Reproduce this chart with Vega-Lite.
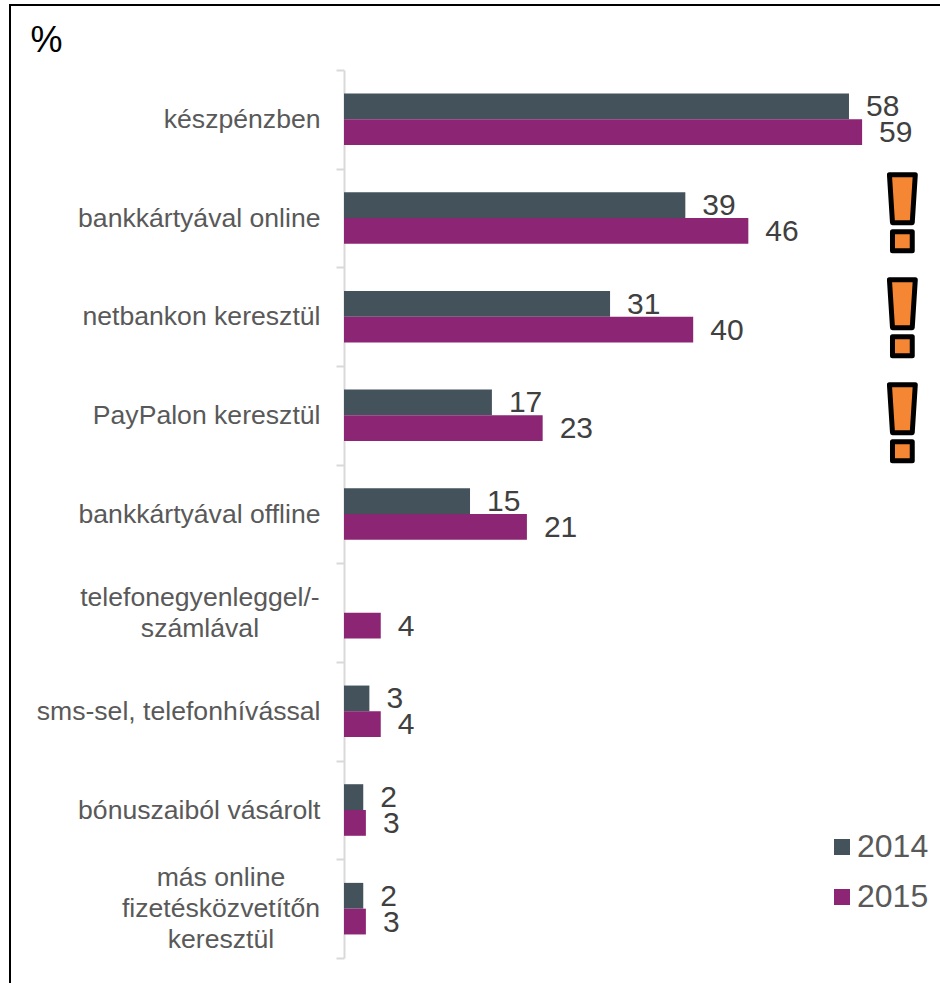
{
"$schema":"https://vega.github.io/schema/vega-lite/v6.json",
"autosize":"none",
"padding":{"left":10,"top":5,"right":0,"bottom":0},
"width":950,
"height":1000,
"background":"white",
"view":{"stroke":"black","strokeWidth":2,"fill":"white"},
"config":{"font":"Liberation Sans"},
"datasets":{
"bars":[
{"cat":"készpénzben","year":"2014","v":57.7,"lab":"58"},
{"cat":"készpénzben","year":"2015","v":59.2,"lab":"59"},
{"cat":"bankkártyával online","year":"2014","v":39,"lab":"39"},
{"cat":"bankkártyával online","year":"2015","v":46.2,"lab":"46"},
{"cat":"netbankon keresztül","year":"2014","v":30.4,"lab":"31"},
{"cat":"netbankon keresztül","year":"2015","v":39.9,"lab":"40"},
{"cat":"PayPalon keresztül\u00a0","year":"2014","v":16.9,"lab":"17"},
{"cat":"PayPalon keresztül\u00a0","year":"2015","v":22.7,"lab":"23"},
{"cat":"bankkártyával offline","year":"2014","v":14.4,"lab":"15"},
{"cat":"bankkártyával offline","year":"2015","v":20.9,"lab":"21"},
{"cat":"telefonegyenleggel/-|számlával","year":"2015","v":4.2,"lab":"4"},
{"cat":"sms-sel, telefonhívással","year":"2014","v":2.9,"lab":"3"},
{"cat":"sms-sel, telefonhívással","year":"2015","v":4.2,"lab":"4"},
{"cat":"bónuszaiból vásárolt","year":"2014","v":2.2,"lab":"2"},
{"cat":"bónuszaiból vásárolt","year":"2015","v":2.5,"lab":"3"},
{"cat":"más online|fizetésközvetítőn|keresztül","year":"2014","v":2.2,"lab":"2"},
{"cat":"más online|fizetésközvetítőn|keresztül","year":"2015","v":2.5,"lab":"3"}
],
"flags":[{"rank":1,"pos":63.8},{"rank":2,"pos":63.8},{"rank":3,"pos":63.8}]
},
"resolve":{"scale":{"y":"independent"}},
"layer":[
{"data":{"name":"bars"},
"mark":{"type":"bar"},
"encoding":{
"y":{"field":"cat","type":"nominal","sort":null,"scale":{"domain":["készpénzben","bankkártyával online","netbankon keresztül","PayPalon keresztül\u00a0","bankkártyával offline","telefonegyenleggel/-|számlával","sms-sel, telefonhívással","bónuszaiból vásárolt","más online|fizetésközvetítőn|keresztül"],"range":[65,953],"paddingInner":0,"paddingOuter":0},
"axis":{"title":"%","titleFontSize":36,"titleFontWeight":"normal","titleColor":"black","titleAngle":0,"titleAlign":"left","titleBaseline":"alphabetic","titleX":-314,"titleY":46,
"offset":-334,"domainColor":"#d9d9d9","domainWidth":2,"tickColor":"#d9d9d9","tickWidth":2,"tickSize":8,"tickBand":"extent","labelFontSize":26.6,"labelColor":"#595959","labelPadding":16,"labelLimit":300,
"labelExpr":"isValid(datum.value)&&indexof(datum.value,'|')<0?datum.value:''"}},
"x":{"field":"v","type":"quantitative","scale":{"domain":[0,68.1],"nice":false,"range":[334,930]},"axis":null},
"yOffset":{"field":"year","type":"nominal","scale":{"domain":["2014","2015"],"paddingInner":0,"paddingOuter":0.913}},
"color":{"field":"year","type":"nominal","scale":{"domain":["2014","2015"],"range":["#44525c","#8c2573"]},
"legend":{"orient":"none","legendX":816,"legendY":826,"title":null,"symbolType":"square","symbolSize":256,"symbolStrokeWidth":0,"labelFontSize":32,"labelColor":"#595959","rowPadding":18,"labelOffset":-1,"symbolOpacity":1}}
}},
{"data":{"name":"bars"},
"mark":{"type":"text","align":"left","baseline":"middle","dx":17,"dy":1,"fontSize":30,"color":"#404040"},
"encoding":{
"y":{"field":"cat","type":"nominal","sort":null,"axis":null,"scale":{"domain":["készpénzben","bankkártyával online","netbankon keresztül","PayPalon keresztül\u00a0","bankkártyával offline","telefonegyenleggel/-|számlával","sms-sel, telefonhívással","bónuszaiból vásárolt","más online|fizetésközvetítőn|keresztül"],"range":[65,953],"paddingInner":0,"paddingOuter":0}},
"x":{"field":"v","type":"quantitative"},
"yOffset":{"field":"year","type":"nominal"},
"text":{"field":"lab","type":"nominal"}
}},
{"data":{"values":[{"cat":"telefonegyenleggel/-|számlával","at":-16.46}]},
"mark":{"type":"text","align":"center","baseline":"middle","dy":-15,"fontSize":26.6,"color":"#595959","lineBreak":"|","lineHeight":31},
"encoding":{
"y":{"field":"cat","type":"nominal","sort":null,"axis":null,"scale":{"domain":["készpénzben","bankkártyával online","netbankon keresztül","PayPalon keresztül\u00a0","bankkártyával offline","telefonegyenleggel/-|számlával","sms-sel, telefonhívással","bónuszaiból vásárolt","más online|fizetésközvetítőn|keresztül"],"range":[65,953],"paddingInner":0,"paddingOuter":0}},
"x":{"field":"at","type":"quantitative"},
"text":{"field":"cat","type":"nominal"}
}},
{"data":{"values":[{"cat":"más online|fizetésközvetítőn|keresztül","at":-14.06}]},
"mark":{"type":"text","align":"center","baseline":"middle","dy":-31,"fontSize":26.6,"color":"#595959","lineBreak":"|","lineHeight":31},
"encoding":{
"y":{"field":"cat","type":"nominal","sort":null,"axis":null,"scale":{"domain":["készpénzben","bankkártyával online","netbankon keresztül","PayPalon keresztül\u00a0","bankkártyával offline","telefonegyenleggel/-|számlával","sms-sel, telefonhívással","bónuszaiból vásárolt","más online|fizetésközvetítőn|keresztül"],"range":[65,953],"paddingInner":0,"paddingOuter":0}},
"x":{"field":"at","type":"quantitative"},
"text":{"field":"cat","type":"nominal"}
}},
{"data":{"name":"flags"},
"mark":{"type":"point","filled":true,"fill":"#f58634","stroke":"black","strokeWidth":5,"strokeJoin":"round","opacity":1,"shape":"M-0.34,-1 L0.34,-1 L0.26,0.26 L-0.26,0.26 Z M-0.26,0.5 L0.26,0.5 L0.26,1 L-0.26,1 Z","size":5776},
"encoding":{
"x":{"field":"pos","type":"quantitative"},
"y":{"field":"rank","type":"quantitative","axis":null,"scale":{"domain":[-0.36,9.04],"nice":false,"zero":false,"range":[65,1052]}}
}}
]
}
